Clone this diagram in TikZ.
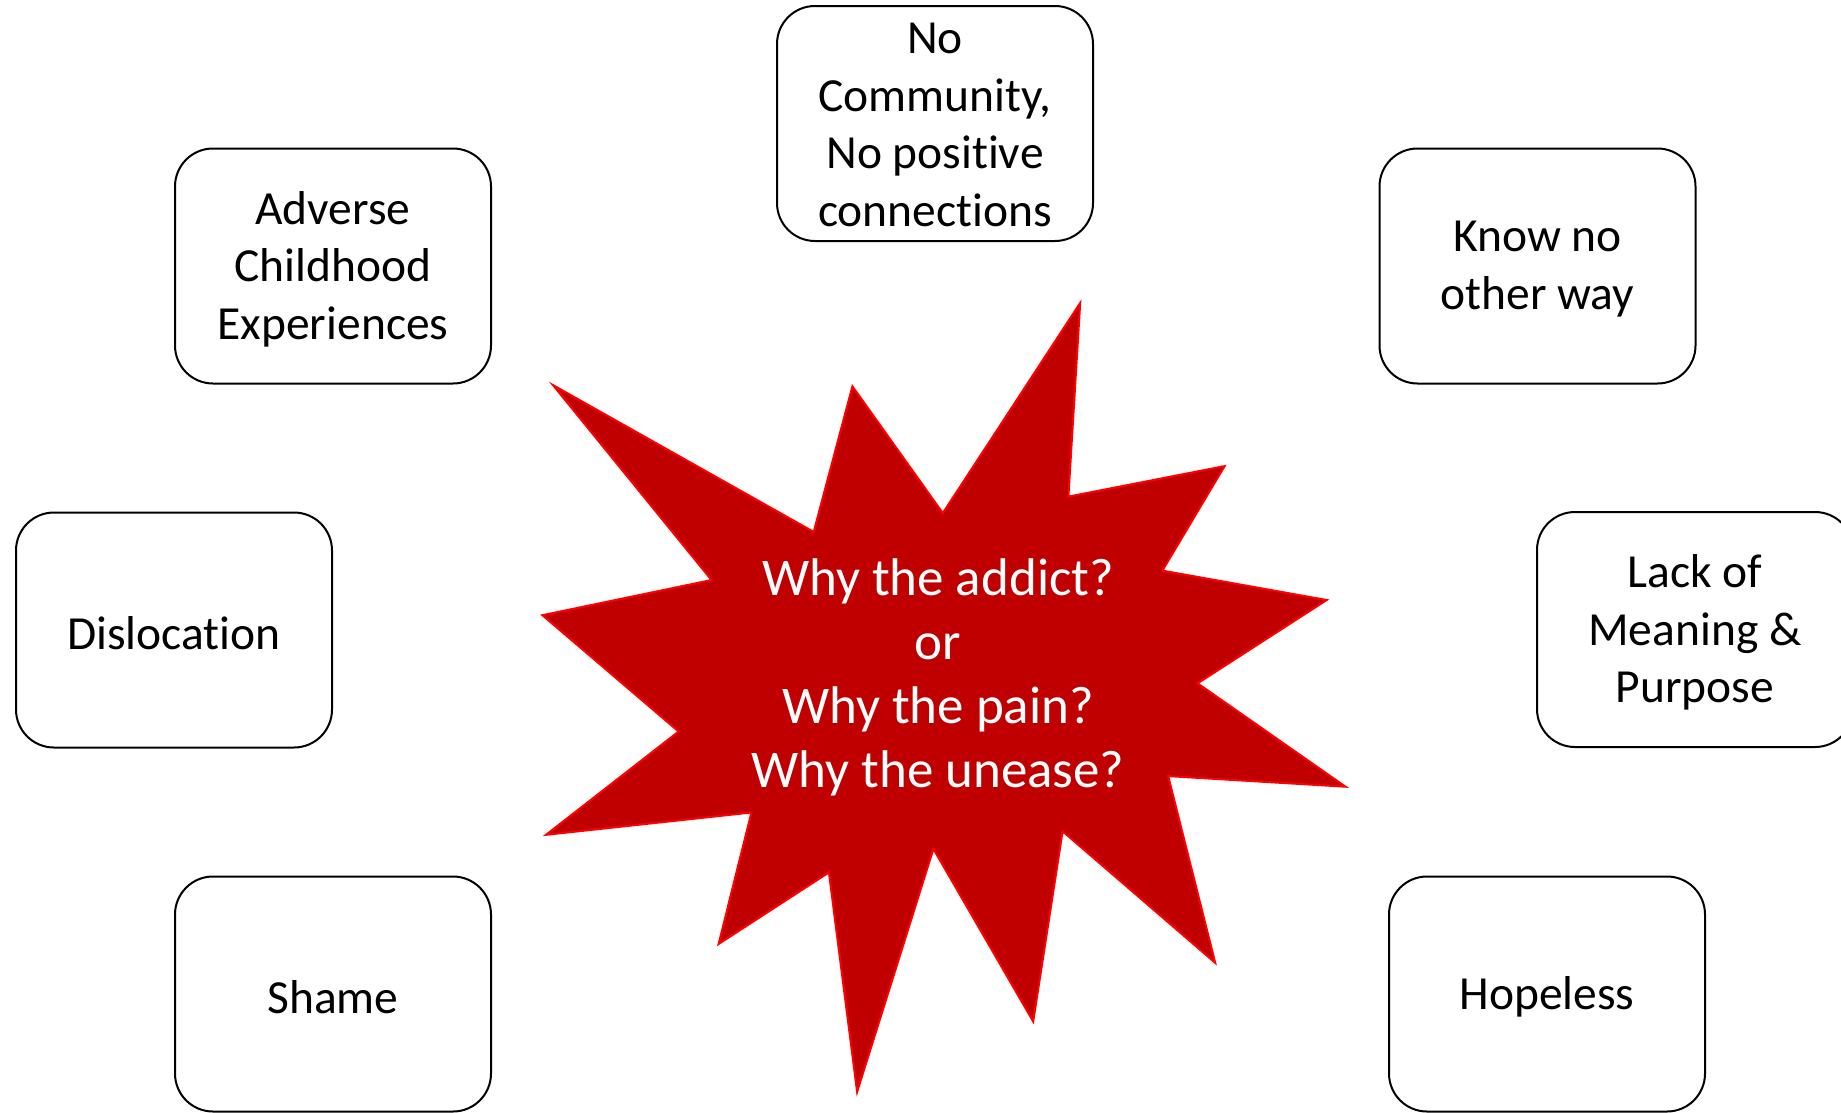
\documentclass[tikz,border=0pt]{standalone}
\usepackage{fontspec}
\setmainfont[RawFeature={-liga;-clig;-calt;-dlig}]{Carlito}
\definecolor{starred}{RGB}{192,0,0}
\begin{document}
\begin{tikzpicture}[x=1pt,y=-1pt,
  box/.style={draw=black, line width=2pt, rounded corners=38pt,
    minimum width=316pt, minimum height=235pt, inner sep=0pt},
  boxtext/.style={align=center, inner sep=0pt, yshift=-3pt,
    font=\fontsize{47.5}{57.5}\selectfont},
  startext/.style={text=white, align=center, inner sep=0pt,
    font=\fontsize{53}{64.2}\selectfont}]
\useasboundingbox (0,0) rectangle (1841,1112);
\clip (0,0) rectangle (1841,1112);
\fill[white] (0,0) rectangle (1841,1112);
% star
\draw[draw=red, fill=starred, line width=2pt, line join=miter]
  (1080.2,302.9) -- (1068.4,496.6) -- (1224.6,466.1) -- (1162.4,570.6)
  -- (1326.7,600.0) -- (1197.6,683.3) -- (1345.5,786.7) -- (1168.2,776.1)
  -- (1215.2,962.8) -- (1062.6,831.3) -- (1033.2,1021.5) -- (933.4,848.9)
  -- (857.1,1091.9) -- (828.9,872.4) -- (718.6,944.0) -- (751.4,812.5)
  -- (546.0,834.8) -- (678.6,731.5) -- (542.4,615.2) -- (711.5,580.0)
  -- (553.0,385.1) -- (813.7,531.9) -- (852.4,386.3) -- (942.8,513.1)
  -- cycle;
\node[startext] (q) at (938,677.5) {Why the addict?\\or\\Why the pain?\\Why the unease?};
% boxes
\node[box, label={[boxtext]center:Adverse\\Childhood\\Experiences}] (ace) at (333,266) {};
\node[box, label={[boxtext, yshift=1.5pt]center:No\\Community,\\No positive\\connections}] (comm) at (935,123.5) {};
\node[box, label={[boxtext]center:Know no\\other way}] (know) at (1537.5,266) {};
\node[box, label={[boxtext]center:Dislocation}] (disl) at (174,630) {};
\node[box, label={[boxtext]center:Lack of\\Meaning \&\\Purpose}] (lack) at (1695,629.5) {};
\node[box, label={[boxtext]center:Shame}] (shame) at (333,994) {};
\node[box, label={[boxtext]center:Hopeless}] (hope) at (1547,994) {};
\end{tikzpicture}
\end{document}
